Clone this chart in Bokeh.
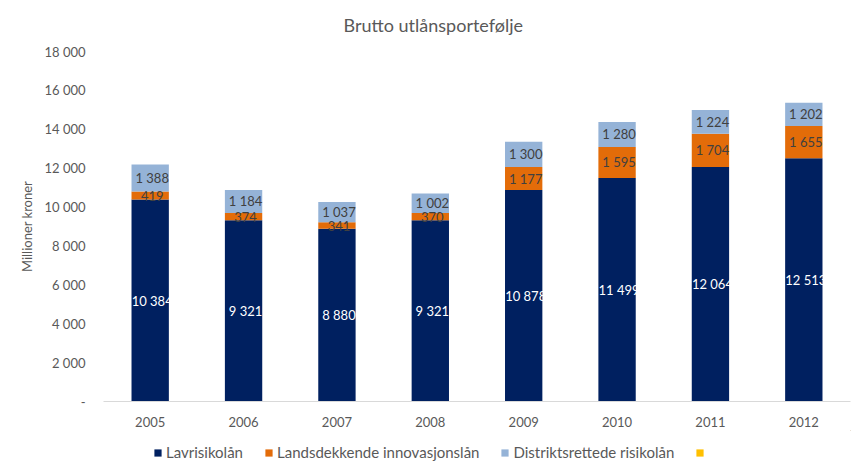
from bokeh.plotting import figure
from bokeh.layouts import column
from bokeh.models import ColumnDataSource, FixedTicker, Legend, LegendItem, Title, LabelSet, Range1d, FactorRange
from bokeh.core.properties import value
from bokeh.embed import file_html
from bokeh.resources import INLINE

years = ["2005", "2006", "2007", "2008", "2009", "2010", "2011", "2012"]
lavrisiko = [10384, 9321, 8880, 9321, 10878, 11499, 12064, 12513]
landsdekkende = [419, 374, 341, 370, 1177, 1595, 1704, 1655]
distrikt = [1388, 1184, 1037, 1002, 1300, 1280, 1224, 1202]
other = [0, 0, 0, 0, 0, 0, 0, 0]
series_names = ["Lavrisikolån", "Landsdekkende innovasjonslån", "Distriktsrettede risikolån", ""]
y_ticks = [0, 2000, 4000, 6000, 8000, 10000, 12000, 14000, 16000, 18000]
y_tick_labels = ["-", "2 000", "4 000", "6 000", "8 000", "10 000", "12 000", "14 000", "16 000", "18 000"]

colors = ["#002060", "#E36C09", "#95B3D7", "#FFC000"]
FONT = "Lato"
GREY = "#595959"

def fmt(v):
    return f"{v:,}".replace(",", " ")

b0 = [0] * len(years)
t0 = lavrisiko[:]
t1 = [a + b for a, b in zip(t0, landsdekkende)]
t2 = [a + b for a, b in zip(t1, distrikt)]
t3 = [a + b for a, b in zip(t2, other)]

src = ColumnDataSource(dict(
    x=years,
    b0=b0, t0=t0, t1=t1, t2=t2, t3=t3,
    m0=[(a + b) / 2 for a, b in zip(b0, t0)],
    m1=[(a + b) / 2 for a, b in zip(t0, t1)],
    m2=[(a + b) / 2 for a, b in zip(t1, t2)],
    l0=[fmt(v) for v in lavrisiko],
    l1=[fmt(v) for v in landsdekkende],
    l2=[fmt(v) for v in distrikt],
))

p = figure(width=856, height=430, x_range=FactorRange(*years, range_padding=0),
           y_range=Range1d(0, 18000), output_backend="svg", toolbar_location=None,
           min_border_left=103, min_border_right=6, min_border_top=51, min_border_bottom=29)
p.background_fill_color = "white"
p.border_fill_color = "white"
p.outline_line_color = None
p.xgrid.grid_line_color = None
p.ygrid.grid_line_color = None

w = 0.4
for bot, top, c in [("b0", "t0", colors[0]), ("t0", "t1", colors[1]), ("t1", "t2", colors[2]), ("t2", "t3", colors[3])]:
    p.vbar(x="x", bottom=bot, top=top, width=w, fill_color=c, line_color=None, source=src)

for ycol, tcol, col in [("m0", "l0", "white"), ("m1", "l1", "#404040"), ("m2", "l2", "#404040")]:
    p.add_layout(LabelSet(x="x", y=ycol, text=tcol, source=src, text_align="center",
                          text_baseline="middle", text_color=col, text_font=value(FONT),
                          text_font_size="13px", x_offset=2))

p.yaxis.ticker = FixedTicker(ticks=y_ticks)
p.yaxis.major_label_overrides = {t: l for t, l in zip(y_ticks, y_tick_labels)}
p.yaxis.axis_line_color = None
p.yaxis.major_tick_line_color = None
p.yaxis.minor_tick_line_color = None
p.yaxis.major_label_text_font = FONT
p.yaxis.major_label_text_font_size = "13px"
p.yaxis.major_label_text_color = GREY
p.yaxis.major_label_standoff = 12
p.yaxis.axis_label = "Millioner kroner"
p.yaxis.axis_label_text_font = FONT
p.yaxis.axis_label_text_font_size = "13px"
p.yaxis.axis_label_text_font_style = "normal"
p.yaxis.axis_label_text_color = GREY
p.yaxis.axis_label_standoff = 6

p.xaxis.axis_line_color = "#D9D9D9"
p.xaxis.major_tick_line_color = None
p.xaxis.minor_tick_line_color = None
p.xaxis.major_label_text_font = FONT
p.xaxis.major_label_text_font_size = "13px"
p.xaxis.major_label_text_color = GREY
p.xaxis.major_label_standoff = 9

p.add_layout(Title(text="Brutto utlånsportefølje", align="left", vertical_align="top", text_font=FONT,
                   text_font_size="18px", text_font_style="normal", text_color=GREY, offset=240,
                   standoff=27), "above")

# legend strip below the chart
lg = figure(width=856, height=38, x_range=Range1d(0, 1), y_range=Range1d(0, 1),
            output_backend="svg", toolbar_location=None,
            x_axis_location=None, y_axis_location=None,
            min_border_left=0, min_border_right=0, min_border_top=0, min_border_bottom=0)
lg.grid.visible = False
lg.outline_line_color = None
lg.background_fill_color = "white"
lg.border_fill_color = "white"
swatches = [lg.vbar(x=[5], top=[5], bottom=[4], width=0.1, fill_color=c, line_color=None) for c in colors]
legend = Legend(items=[LegendItem(label=value(n), renderers=[r]) for n, r in zip(series_names, swatches)],
                orientation="horizontal", location=(50, 7), border_line_color=None,
                background_fill_alpha=0, label_text_font=FONT, label_text_font_size="15px",
                label_text_color=GREY, glyph_width=9, glyph_height=9, spacing=21,
                label_standoff=4, padding=4, margin=0)
lg.add_layout(legend, "center")

layout = column(p, lg, spacing=0)
open("out.html", "w").write(file_html(layout, INLINE))
